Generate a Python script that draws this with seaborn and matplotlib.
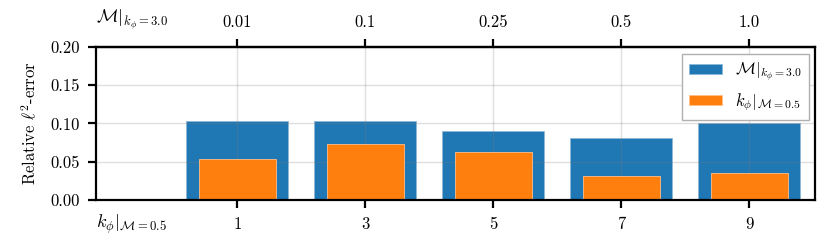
import numpy as np
import pandas as pd
import matplotlib
matplotlib.use("Agg")
import matplotlib.pyplot as plt
import seaborn as sns

# data
k_phi = [1, 3, 5, 7, 9]
m_values = ["0.01", "0.1", "0.25", "0.5", "1.0"]
err_m = [0.103, 0.103, 0.090, 0.081, 0.101]      # M | k_phi = 3.0
err_kphi = [0.053, 0.073, 0.063, 0.032, 0.035]   # k_phi | M = 0.5

BLUE = "#1f77b4"
ORANGE = "#ff7f0e"
FS = 12
FS_MATH = 13

sns.set_style("ticks")
plt.rcParams["font.family"] = ["serif"]
plt.rcParams["font.serif"] = ["cmr10", "DejaVu Serif"]
plt.rcParams["mathtext.fontset"] = "cm"
plt.rcParams["axes.formatter.use_mathtext"] = True
plt.rcParams["font.size"] = FS
plt.rcParams["text.color"] = "black"
plt.rcParams["axes.labelcolor"] = "black"
plt.rcParams["xtick.color"] = "black"
plt.rcParams["ytick.color"] = "black"

df = pd.DataFrame({"k_phi": k_phi, "err_m": err_m, "err_kphi": err_kphi})

fig, ax = plt.subplots(figsize=(8.31, 2.47), dpi=100)

lbl_m = r"$\mathcal{M}|_{k_\phi=3.0}$"
lbl_k = r"$k_\phi|_{\mathcal{M}=0.5}$"

sns.barplot(data=df, x="k_phi", y="err_m", native_scale=True, width=0.8,
            color=BLUE, saturation=1, ax=ax, label=lbl_m,
            edgecolor="#8fb8d8", linewidth=0.6, zorder=2)
sns.barplot(data=df, x="k_phi", y="err_kphi", native_scale=True, width=0.6,
            color=ORANGE, saturation=1, ax=ax, label=lbl_k,
            edgecolor="#ffbf87", linewidth=0.6, zorder=3)

ax.set_xlim(-1.2, 10.03)
ax.set_ylim(0, 0.2)
ax.set_yticks([0.0, 0.05, 0.10, 0.15, 0.20])
ax.set_yticklabels(["0.00", "0.05", "0.10", "0.15", "0.20"])
ax.set_xticks(k_phi)
ax.set_xticklabels([str(k) for k in k_phi])
ax.set_xlabel("")
ax.set_ylabel(r"Relative $\ell^2$-error", labelpad=8)
ax.grid(True, color="#808080", alpha=0.25, linewidth=1.0, zorder=4)
ax.set_axisbelow(False)
for sp in ax.spines.values():
    sp.set_linewidth(1.6)
    sp.set_color("black")
    sp.set_zorder(5)
ax.tick_params(width=1.6, length=6, pad=6, labelsize=FS)

# top axis with the M values
top = ax.secondary_xaxis("top")
top.set_xticks(k_phi)
top.set_xticklabels(m_values)
top.tick_params(width=1.6, length=6, pad=6, labelsize=FS)
top.spines["top"].set_linewidth(1.6)
top.spines["top"].set_color("black")

ax.annotate(lbl_m, xy=(0, 1), xycoords="axes fraction", xytext=(0, 11),
            textcoords="offset points", ha="left", va="bottom", fontsize=FS_MATH)
ax.annotate(lbl_k, xy=(0, 0), xycoords="axes fraction", xytext=(0, -9),
            textcoords="offset points", ha="left", va="top", fontsize=FS_MATH)

leg = ax.legend(loc="upper right", fancybox=False, framealpha=1,
                edgecolor="#b0b0b0", fontsize=FS, handlelength=2.0,
                handleheight=0.6, labelspacing=0.45, borderaxespad=0.4)
leg.set_zorder(10)

fig.subplots_adjust(left=0.116, right=0.981, bottom=0.19, top=0.81)
fig.savefig("out.png", dpi=100)
